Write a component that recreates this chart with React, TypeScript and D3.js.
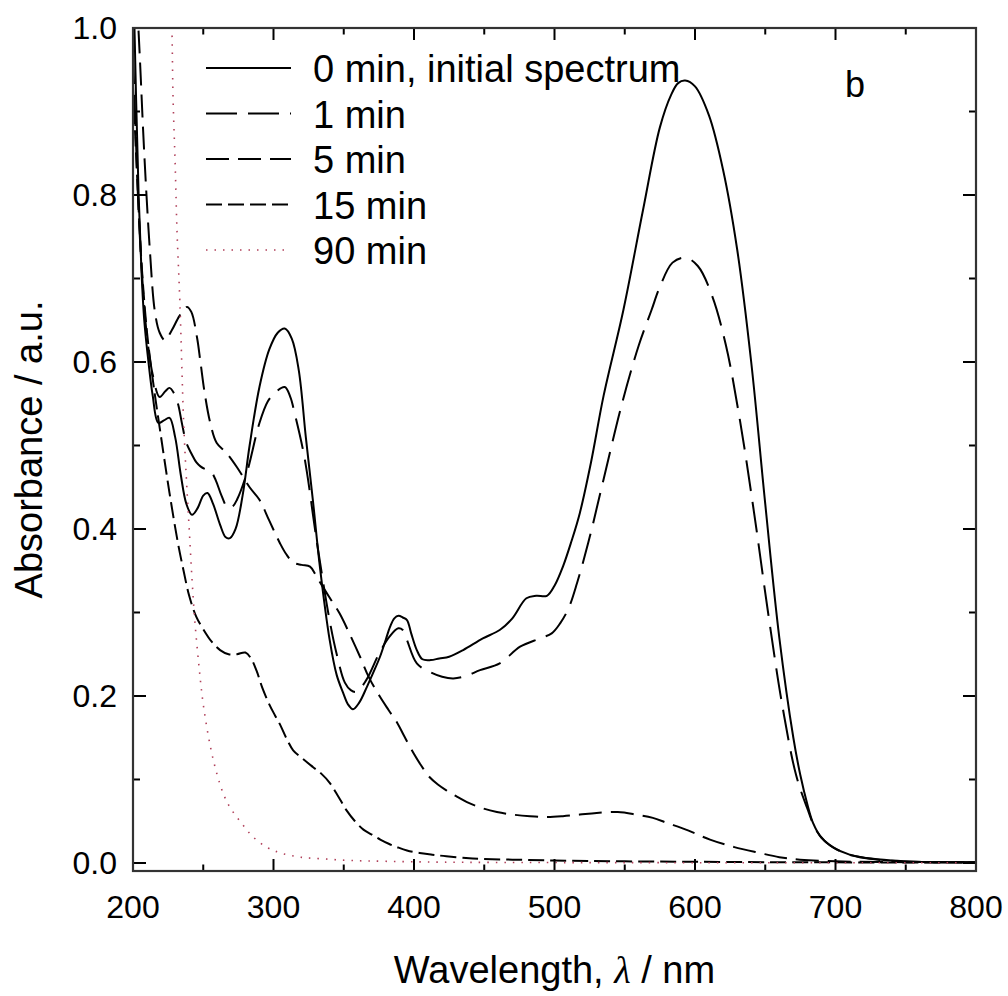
import React from "react";
import * as d3 from "d3";

type Pt = [number, number];

const xTicksMajor = [200, 300, 400, 500, 600, 700, 800];
const xTicksMinor = [250, 350, 450, 550, 650, 750];
const yTicksMajor = [0, 0.2, 0.4, 0.6, 0.8, 1.0];
const yTicksMinor = [0.1, 0.3, 0.5, 0.7, 0.9];

const legendLabels = ["0 min, initial spectrum", "1 min", "5 min", "15 min", "90 min"];

const s0min: Pt[] = [
  [200, 1.08], [202, 0.93], [204, 0.8], [206, 0.71], [208, 0.65], [211, 0.6], [214, 0.56], [218, 0.527],
  [222, 0.53], [226, 0.533], [230, 0.51], [234, 0.465], [238, 0.43], [242, 0.417], [246, 0.425], [250, 0.44],
  [253, 0.443], [257, 0.43], [262, 0.405], [266, 0.39], [269, 0.389], [273, 0.4], [278, 0.44], [283, 0.5],
  [290, 0.57], [297, 0.615], [303, 0.635], [308, 0.64], [313, 0.628], [318, 0.59], [323, 0.51], [328, 0.435],
  [333, 0.355], [340, 0.267], [345, 0.225], [349.5, 0.204], [353, 0.19], [356.6, 0.184], [361, 0.192],
  [366.5, 0.211], [371, 0.228], [375.8, 0.247], [380, 0.268], [383, 0.283], [386, 0.293], [389, 0.296],
  [392, 0.294], [395, 0.291], [398, 0.275], [402, 0.255], [406, 0.244], [412, 0.243], [418, 0.245],
  [425, 0.247], [435, 0.255], [449, 0.269], [461, 0.279], [470, 0.293], [480, 0.317], [487, 0.32],
  [494.6, 0.32], [500, 0.332], [506, 0.355], [512, 0.385], [518, 0.419], [526, 0.48], [535, 0.56],
  [549, 0.662], [563, 0.782], [575, 0.881], [583, 0.92], [588, 0.934], [593, 0.937], [600, 0.93],
  [610, 0.895], [620, 0.83], [630, 0.735], [640, 0.6], [650, 0.43], [660, 0.27], [670, 0.15], [675, 0.105],
  [680, 0.07], [684, 0.048], [690, 0.03], [698, 0.019], [710, 0.01], [722, 0.006], [740, 0.003],
  [758, 0.0015], [780, 0.001], [800, 0.001],
];

const s1min: Pt[] = [
  [200, 0.97], [202, 0.87], [204, 0.78], [207, 0.69], [210, 0.63], [214, 0.585], [219, 0.558], [223, 0.565],
  [226, 0.569], [229, 0.563], [232, 0.55], [235, 0.525], [238, 0.503], [242, 0.489], [245, 0.48], [248, 0.475],
  [251, 0.472], [255, 0.47], [259, 0.458], [263, 0.44], [267.6, 0.425], [271, 0.427], [274, 0.435],
  [281, 0.467], [290, 0.527], [296, 0.553], [301, 0.563], [308, 0.57], [312, 0.558], [315, 0.539],
  [322, 0.486], [331, 0.383], [340, 0.29], [345, 0.25], [350.8, 0.216], [355, 0.207], [359, 0.205],
  [366, 0.219], [375.8, 0.253], [383, 0.272], [388.8, 0.281], [392, 0.279], [395, 0.267], [402, 0.239],
  [411, 0.229], [420, 0.223], [428, 0.221], [437, 0.224], [447, 0.231], [461, 0.239], [475.5, 0.259],
  [489.7, 0.269], [498, 0.275], [504, 0.287], [510, 0.305], [516, 0.335], [525, 0.39], [535, 0.46],
  [548, 0.55], [560, 0.62], [569, 0.662], [575, 0.69], [584, 0.719], [593, 0.725], [602, 0.715],
  [612, 0.68], [622, 0.62], [632, 0.53], [642, 0.42], [652, 0.3], [662, 0.19], [672, 0.105], [680, 0.065],
  [686, 0.04], [692, 0.027], [700, 0.017], [712, 0.009], [725, 0.005], [745, 0.002], [770, 0.001], [800, 0.001],
];

const s5min: Pt[] = [
  [200, 1.15], [203, 1.03], [205, 0.96], [208, 0.85], [212, 0.734], [215.6, 0.66], [219, 0.635],
  [222.8, 0.626], [227.6, 0.638], [233, 0.655], [238.4, 0.666], [241.5, 0.66], [245.6, 0.629], [248, 0.6],
  [251, 0.563], [255, 0.527], [259.6, 0.503], [266.6, 0.491], [274, 0.474], [283, 0.45], [290, 0.435],
  [297, 0.41], [304.6, 0.383], [309, 0.37], [314, 0.36], [320, 0.357], [326, 0.355], [330, 0.345],
  [335, 0.331], [341, 0.315], [347, 0.299], [354, 0.275], [361.6, 0.247], [368, 0.222], [375.8, 0.199],
  [382, 0.183], [388, 0.168], [393, 0.152], [399.5, 0.132], [405, 0.117], [411, 0.103], [417, 0.094],
  [423, 0.087], [430, 0.08], [437.7, 0.073], [448, 0.066], [459, 0.061], [470, 0.058], [482.6, 0.056],
  [495, 0.055], [506, 0.056], [518, 0.058], [530, 0.06], [545, 0.061], [558, 0.058], [570, 0.054],
  [580, 0.048], [595, 0.039], [610.7, 0.028], [628, 0.019], [646, 0.012], [660, 0.007], [674.7, 0.004],
  [700, 0.002], [750, 0.001], [800, 0.001],
];

const s15min: Pt[] = [
  [200, 0.93], [203, 0.82], [206, 0.72], [210, 0.635], [214.4, 0.575], [220.6, 0.503], [226, 0.443],
  [232, 0.383], [236, 0.35], [240, 0.32], [245, 0.295], [250, 0.28], [256, 0.265], [262, 0.255], [268, 0.25],
  [274, 0.25], [280, 0.252], [284, 0.245], [288, 0.23], [292, 0.21], [297, 0.19], [301, 0.177],
  [304.6, 0.166], [309, 0.15], [314, 0.135], [320, 0.126], [328, 0.115], [334, 0.107], [340, 0.096],
  [346, 0.08], [352, 0.063], [358, 0.05], [364, 0.04], [370, 0.034], [376, 0.028], [382, 0.023],
  [388, 0.019], [395, 0.015], [404, 0.012], [413, 0.01], [423, 0.008], [437, 0.006], [447, 0.005],
  [470, 0.004], [500, 0.003], [550, 0.002], [650, 0.001], [800, 0.0005],
];

const s90min: Pt[] = [
  [222, 1.5], [226, 1.1], [227.7, 1.0], [228.5, 0.917], [230, 0.838], [231.3, 0.758], [233.4, 0.67],
  [236, 0.53], [238, 0.46], [240, 0.4], [242, 0.34], [244, 0.29], [247, 0.235], [250, 0.19], [255, 0.14],
  [260, 0.105], [265, 0.08], [270, 0.064], [277.6, 0.047], [285, 0.032], [295, 0.019], [305, 0.012],
  [319, 0.007], [335, 0.005], [355, 0.003], [380, 0.002], [420, 0.001], [500, 0.0005], [800, 0.0003],
];

const seriesData: Pt[][] = [s0min, s1min, s5min, s15min, s90min];
const seriesDash = ["none", "31 11", "23 9", "16 6", "1.5 7"];
const seriesColor = ["#000", "#000", "#000", "#000", "#b0405a"];

const W = 1008;
const H = 996;
const left = 133, right = 976, top = 28, bottom = 871;

export default function App() {
  const x = d3.scaleLinear().domain([200, 800]).range([left, right]);
  const y = d3.scaleLinear().domain([-0.0096, 1.0]).range([bottom, top]);
  const line = d3
    .line<Pt>()
    .x((d) => x(d[0]))
    .y((d) => y(d[1]))
    .curve(d3.curveCatmullRom.alpha(0.5));

  const font = "'Liberation Sans', Arial, Helvetica, sans-serif";
  const axisColor = "#333";
  const legendY0 = 68;
  const legendStep = 45.5;

  return (
    <svg width={W} height={H} style={{ position: "absolute", left: 0, top: 0 }}>
      <rect x={0} y={0} width={W} height={H} fill="#fff" />
      <defs>
        <clipPath id="plot">
          <rect x={left} y={top} width={right - left} height={bottom - top} />
        </clipPath>
      </defs>
      <g clipPath="url(#plot)">
        {seriesData.map((s, i) => (
          <path
            key={i}
            d={line(s) || ""}
            fill="none"
            stroke={seriesColor[i]}
            strokeWidth={i === 4 ? 1.6 : 2}
            strokeDasharray={seriesDash[i] === "none" ? undefined : seriesDash[i]}
          />
        ))}
      </g>
      {/* ticks */}
      <g stroke="#000" strokeWidth={2}>
        {xTicksMajor.map((t) => (
          <g key={"xM" + t}>
            <line x1={x(t)} x2={x(t)} y1={bottom} y2={bottom - 12} />
            <line x1={x(t)} x2={x(t)} y1={top} y2={top + 12} />
          </g>
        ))}
        {xTicksMinor.map((t) => (
          <g key={"xm" + t}>
            <line x1={x(t)} x2={x(t)} y1={bottom} y2={bottom - 6.5} />
            <line x1={x(t)} x2={x(t)} y1={top} y2={top + 6.5} />
          </g>
        ))}
        {yTicksMajor.map((t) => (
          <g key={"yM" + t}>
            <line x1={left} x2={left + 13} y1={y(t)} y2={y(t)} />
            <line x1={right} x2={right - 13} y1={y(t)} y2={y(t)} />
          </g>
        ))}
        {yTicksMinor.map((t) => (
          <g key={"ym" + t}>
            <line x1={left} x2={left + 7} y1={y(t)} y2={y(t)} />
            <line x1={right} x2={right - 7} y1={y(t)} y2={y(t)} />
          </g>
        ))}
      </g>
      <rect x={left} y={top} width={right - left} height={bottom - top} fill="none" stroke={axisColor} strokeWidth={2.2} />
      {/* tick labels */}
      <g fontFamily={font} fontSize={32} fill="#000">
        {xTicksMajor.map((t) => (
          <text key={"xl" + t} x={x(t)} y={918} textAnchor="middle">
            {t}
          </text>
        ))}
        {yTicksMajor.map((t) => (
          <text key={"yl" + t} x={117} y={y(t) + 11} textAnchor="end">
            {t.toFixed(1)}
          </text>
        ))}
      </g>
      {/* axis titles */}
      <text x={(left + right) / 2} y={983} textAnchor="middle" fontFamily={font} fontSize={38}>
        Wavelength,{" "}
        <tspan fontFamily="'Liberation Serif', 'DejaVu Serif', serif" fontStyle="italic">
          λ
        </tspan>{" "}
        / nm
      </text>
      <text
        transform={`translate(42, ${(top + bottom) / 2}) rotate(-90)`}
        textAnchor="middle"
        fontFamily={font}
        fontSize={38}
      >
        Absorbance / a.u.
      </text>
      {/* legend */}
      <g>
        {legendLabels.map((lab, i) => (
          <g key={lab}>
            <line
              x1={206}
              x2={291}
              y1={legendY0 + i * legendStep}
              y2={legendY0 + i * legendStep}
              stroke={seriesColor[i]}
              strokeWidth={i === 4 ? 1.6 : 2}
              strokeDasharray={seriesDash[i] === "none" ? undefined : seriesDash[i]}
            />
            <text x={313} y={legendY0 + 14 + i * legendStep} fontFamily={font} fontSize={38} fill="#000">
              {lab}
            </text>
          </g>
        ))}
      </g>
      <text x={845} y={97} fontFamily={font} fontSize={36} fill="#000">
        b
      </text>
    </svg>
  );
}
